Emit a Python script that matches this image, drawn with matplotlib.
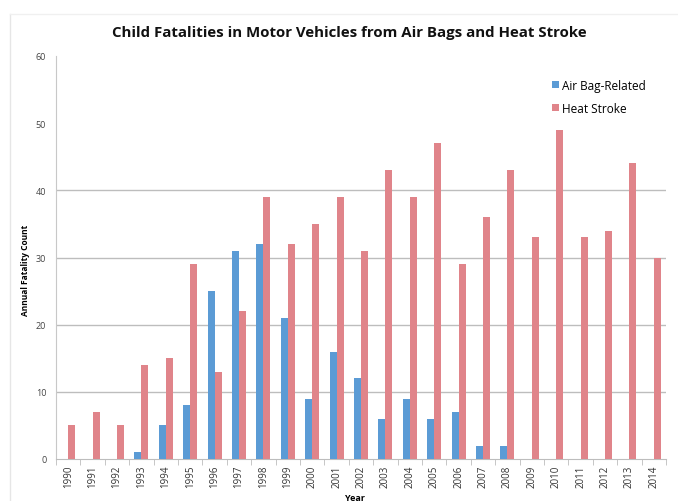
import matplotlib
matplotlib.use("Agg")
import matplotlib.pyplot as plt
import numpy as np
from matplotlib.lines import Line2D

years = [str(y) for y in range(1990, 2015)]
air_bag = [0, 0, 0, 1, 5, 8, 25, 31, 32, 21, 9, 16, 12, 6, 9, 6, 7, 2, 2, 0, 0, 0, 0, 0, 0]
heat_stroke = [5, 7, 5, 14, 15, 29, 13, 22, 39, 32, 35, 39, 31, 43, 39, 47, 29, 36, 43, 33, 49, 33, 34, 44, 30]
y_ticks = [0, 10, 20, 30, 40, 50, 60]
grid_vals = [10, 20, 30, 40]

plt.rcParams['font.family'] = ['Open Sans', 'DejaVu Sans']

fig = plt.figure(figsize=(6.78, 5.02), dpi=100)
ax = fig.add_axes([56/678, 42/502, 610/678, 403/502])

x = np.arange(len(years))
w = 0.29
blue = '#5B9BD5'
red = '#E0848A'
ax.bar(x - w/2, air_bag, width=w, color=blue, label='Air Bag-Related', zorder=3)
ax.bar(x + w/2, heat_stroke, width=w, color=red, label='Heat Stroke', zorder=3)

for g in grid_vals:
    ax.axhline(g, color='#BDBDBD', lw=1.0, zorder=1)

ax.set_xlim(-0.5, len(years) - 0.5)
ax.set_ylim(0, 60)
ax.set_yticks(y_ticks)
ax.set_yticklabels([str(v) for v in y_ticks], fontsize=6.5, color='#444444')
ax.set_xticks(x)
ax.set_xticklabels(years, rotation=90, fontsize=7, color='#333333')
ax.set_xticks(np.arange(-0.5, len(years), 1.0), minor=True)
ax.tick_params(axis='x', which='major', length=0, pad=4)
ax.tick_params(axis='x', which='minor', length=4, color='#BDBDBD')
ax.tick_params(axis='y', length=0, pad=7)

for s in ['top', 'right']:
    ax.spines[s].set_visible(False)
ax.spines['left'].set_color('#C8C8C8')
ax.spines['bottom'].set_color('#BDBDBD')

ax.set_ylabel('Annual Fatality Count', fontsize=6, fontweight='bold', labelpad=4)
ax.yaxis.set_label_coords(-0.042, 0.47)
ax.set_xlabel('Year', fontsize=6.5, fontweight='bold', va='center')
ax.xaxis.set_label_coords(0.49, -0.095)

leg = ax.legend(loc='upper left', bbox_to_anchor=(0.795, 0.97), frameon=False,
                fontsize=8.5, handlelength=0.6, handleheight=0.6, handletextpad=0.3,
                labelspacing=0.85)

fig.text(0.515, 0.935, 'Child Fatalities in Motor Vehicles from Air Bags and Heat Stroke',
         ha='center', va='center', fontsize=10.8, fontweight='bold', color='#111111')

# faint outer frame
fig.add_artist(Line2D([10/678, 10/678], [0, 1 - 15/502], color='#E6E6E6', lw=1, transform=fig.transFigure))
fig.add_artist(Line2D([10/678, 1], [1 - 15/502, 1 - 15/502], color='#F0F0F0', lw=1, transform=fig.transFigure))

fig.savefig('out.png', dpi=100)
